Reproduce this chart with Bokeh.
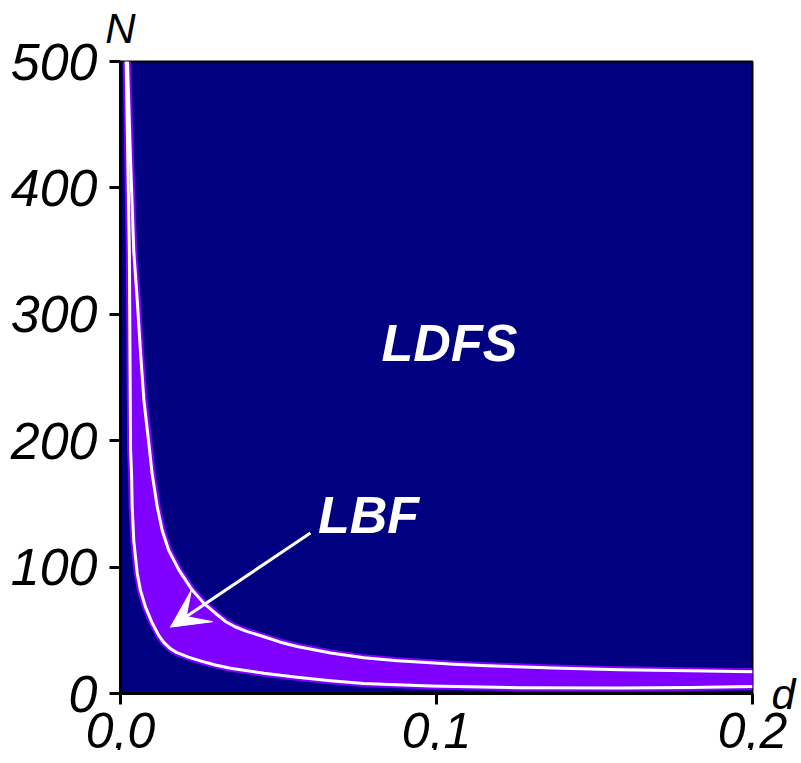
from bokeh.plotting import figure
from bokeh.models import (Range1d, FixedTicker, CustomJSTickFormatter, Label, Arrow, VeeHead,
                          LinearAxis)
from bokeh.embed import file_html
from bokeh.resources import INLINE

# Upper boundary of the LBF region (d, N)
upper_d = [0.0022, 0.0032, 0.0042, 0.0053, 0.0063, 0.0074, 0.0090, 0.0100, 0.0116, 0.0132,
           0.0153, 0.0185, 0.0227, 0.0264, 0.0301, 0.0332, 0.0364, 0.0401, 0.0454, 0.0506,
           0.0559, 0.0665, 0.0770, 0.0876, 0.0981, 0.1054, 0.116, 0.137, 0.158, 0.180, 0.200]
upper_N = [500, 420, 350, 311, 271, 232, 197, 174, 148, 129,
           113, 97.6, 81.8, 71.3, 63.3, 57.0, 52.6, 49.0, 44.9, 40.6,
           37.2, 32.0, 28.2, 26.0, 24.3, 23.2, 21.9, 20.1, 18.8, 17.9, 17.3]
# Lower boundary of the LBF region (d, N)
lower_d = [0.0018, 0.0028, 0.0032, 0.0035, 0.0037, 0.0042, 0.0053, 0.0063, 0.0079, 0.0100,
           0.0121, 0.0137, 0.0158, 0.0179, 0.0215, 0.0253, 0.0300, 0.0348, 0.0454, 0.0559,
           0.0665, 0.0770, 0.0981, 0.1266, 0.1582, 0.180, 0.200]
lower_N = [500, 350, 192, 174, 147.5, 121, 95, 81.8, 68.5, 56.0,
           46.0, 40.5, 35.5, 32.3, 28.8, 25.8, 22.6, 20.0, 16.0, 12.8,
           10.1, 8.0, 5.9, 4.6, 4.3, 4.8, 5.5]

x_ticks = [0.0, 0.1, 0.2]
x_tick_labels = ["0,0", "0,1", "0,2"]
y_ticks = [0, 100, 200, 300, 400, 500]
x_axis_name = "d"
y_axis_name = "N"

NAVY = "#000080"
VIOLET = "#7F00FF"
FONT = "Liberation Sans"

p = figure(frame_width=632, frame_height=632,
           x_range=Range1d(0, 0.2), y_range=Range1d(0, 500),
           output_backend="svg", toolbar_location=None,
           min_border_left=120, min_border_top=61, min_border_right=49, min_border_bottom=10)
p.background_fill_color = NAVY
p.border_fill_color = "white"
p.outline_line_color = "black"
p.outline_line_width = 2
p.grid.visible = False

band_x = upper_d + lower_d[::-1]
band_y = upper_N + lower_N[::-1]
p.patch(band_x, band_y, fill_color=VIOLET, line_color=VIOLET, line_width=4)

p.line(upper_d, upper_N, line_color=VIOLET, line_width=7, line_join="round")
p.line(lower_d, lower_N, line_color=VIOLET, line_width=7, line_join="round")
p.line(upper_d, upper_N, line_color="white", line_width=3, line_join="round")
p.line(lower_d, lower_N, line_color="white", line_width=3, line_join="round")

for ax in (p.xaxis[0], p.yaxis[0]):
    ax.axis_line_width = 3
    ax.axis_line_color = "black"
    ax.major_tick_line_width = 3
    ax.major_tick_out = 11
    ax.major_tick_in = 0
    ax.minor_tick_line_color = None
    ax.major_label_text_font = FONT
    ax.major_label_text_font_style = "italic"
    ax.major_label_text_color = "black"

p.xaxis[0].ticker = FixedTicker(ticks=x_ticks)
p.xaxis[0].formatter = CustomJSTickFormatter(
    args=dict(tvals=x_ticks, tlabels=x_tick_labels),
    code="""
    for (let i = 0; i < tvals.length; i++) { if (Math.abs(tick - tvals[i]) < 1e-9) return tlabels[i]; }
    return tick.toFixed(1).replace('.', ',');
    """)
p.xaxis[0].major_label_text_font_size = "50px"
p.xaxis[0].major_label_standoff = 8
p.yaxis[0].ticker = FixedTicker(ticks=y_ticks)
p.yaxis[0].major_label_standoff = 12
p.yaxis[0].major_label_text_font_size = "52px"

# axis names as single-label axes outside the frame
name_fmt = "return name;"
top_ax = LinearAxis(ticker=FixedTicker(ticks=[0.0]),
                    formatter=CustomJSTickFormatter(args=dict(name=y_axis_name), code=name_fmt),
                    axis_line_color=None, major_tick_line_color=None, minor_tick_line_color=None,
                    major_tick_out=0, major_tick_in=0, major_label_standoff=10,
                    major_label_text_font=FONT, major_label_text_font_style="italic",
                    major_label_text_font_size="42px", major_label_text_color="black")
p.add_layout(top_ax, "above")
right_ax = LinearAxis(ticker=FixedTicker(ticks=[0]),
                      formatter=CustomJSTickFormatter(args=dict(name=x_axis_name), code=name_fmt),
                      axis_line_color=None, major_tick_line_color=None, minor_tick_line_color=None,
                      major_tick_out=0, major_tick_in=0, major_label_standoff=19,
                      major_label_text_font=FONT, major_label_text_font_style="italic",
                      major_label_text_font_size="43px", major_label_text_color="black")
p.add_layout(right_ax, "right")

p.add_layout(Label(x=0.1041, y=277, text="LDFS", text_color="white", text_font=FONT,
                   text_font_style="bold italic", text_font_size="52px",
                   text_align="center", text_baseline="alphabetic"))
p.add_layout(Label(x=0.0785, y=141, text="LBF", text_color="white", text_font=FONT,
                   text_font_style="bold italic", text_font_size="52px",
                   text_align="center", text_baseline="alphabetic"))
p.add_layout(Arrow(end=VeeHead(size=38, fill_color="white", line_color="white"),
                   x_start=0.0601, y_start=127, x_end=0.0158, y_end=52.5,
                   line_color="white", line_width=3))

open("out.html", "w").write(file_html(p, INLINE))
